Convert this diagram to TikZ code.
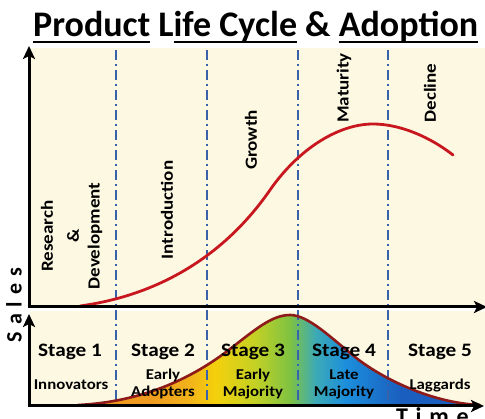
\documentclass[tikz,border=0pt]{standalone}
\usepackage{fontspec}
\setmainfont{Carlito}
\newfontfamily\lblfont[FakeStretch=1.12]{Carlito}
\newfontfamily\axfont[LetterSpace=32]{Carlito}
\usetikzlibrary{arrows.meta}
\definecolor{cream}{HTML}{FCF8E2}
\definecolor{plcred}{HTML}{C8171E}
\definecolor{bellline}{HTML}{8E1A1A}
\definecolor{dashblue}{HTML}{3A62A8}
\definecolor{gA}{HTML}{EE9A1E}
\definecolor{gB}{HTML}{F2B41A}
\definecolor{gC}{HTML}{F4D00C}
\definecolor{gD}{HTML}{C3D125}
\definecolor{gE}{HTML}{7EC242}
\definecolor{gF}{HTML}{3DAAB5}
\definecolor{gG}{HTML}{1C8FDC}
\definecolor{gH}{HTML}{1A5FBF}
\newcommand\myul[1]{\setbox0\hbox{#1}\rlap{\rule[-6pt]{\wd0}{2pt}}\box0\relax}
\tikzset{
  axisline/.style={line width=3pt,-{Stealth[length=13pt,width=12pt,inset=3pt]}},
  divider/.style={dashblue,line width=1.3pt,dash pattern=on 10pt off 4pt on 2pt off 4pt},
  phase/.style={rotate=90,inner sep=0pt,font=\lblfont\fontsize{17}{17}\selectfont\bfseries},
  stagelbl/.style={anchor=base,inner sep=0pt,font=\lblfont\fontsize{19}{19}\selectfont\bfseries},
  grouplbl/.style={anchor=base,inner sep=0pt,font=\lblfont\fontsize{15}{15}\selectfont\bfseries},
}
\def\bellpath{(78,405) .. controls (140,402) and (190,380) .. (230,349)
  .. controls (256,329) and (272,315) .. (290,315)
  .. controls (308,315) and (330,337) .. (355,357)
  .. controls (380,377) and (430,403) .. (480,405)}
\begin{document}
\begin{tikzpicture}[x=1pt,y=-1pt]
\useasboundingbox (0,0) rectangle (485,419);
\fill[white] (0,0) rectangle (485,419);
\fill[cream] (30,48) rectangle (485,306);
\fill[cream] (30,311) rectangle (485,405);

% adoption bell, filled with gradient
\begin{scope}
\clip \bellpath -- cycle;
\shade[left color=gA,right color=gA] (70,300) rectangle (150.5,410);
\shade[left color=gA,right color=gB] (150,300) rectangle (190.5,410);
\shade[left color=gB,right color=gC] (190,300) rectangle (215.5,410);
\shade[left color=gC,right color=gD] (215,300) rectangle (255.5,410);
\shade[left color=gD,right color=gE] (255,300) rectangle (290.5,410);
\shade[left color=gE,right color=gF] (290,300) rectangle (315.5,410);
\shade[left color=gF,right color=gG] (315,300) rectangle (345.5,410);
\shade[left color=gG,right color=gH] (345,300) rectangle (400.5,410);
\shade[left color=gH,right color=gH] (400,300) rectangle (485,410);
\end{scope}

% stage dividers
\foreach \x/\n in {116/a,207/b,298/c,388/d}{
  \coordinate (top\n) at (\x,50);
  \coordinate (bot\n) at (\x,406);
  \draw[divider] (top\n) -- (bot\n);
}

\draw[bellline,line width=2.6pt] \bellpath;

% product life cycle curve
\draw[plcred,line width=2.8pt,line cap=round] (80,306) .. controls (160,295) and (225,255) .. (270,190)
  .. controls (300,147) and (340,124) .. (373,124)
  .. controls (400,124) and (430,137) .. (453,155);

% axes
\coordinate (o1) at (29,307);
\coordinate (y1) at (29,46);
\coordinate (x1) at (487,307);
\coordinate (o2) at (29,406);
\coordinate (y2) at (29,314);
\coordinate (x2) at (484,406);
\draw[axisline] ([yshift=1.5pt]o1) -- (y1);
\draw[axisline] ([xshift=-1.5pt]o1) -- (x1);
\draw[axisline] ([yshift=1.5pt]o2) -- (y2);
\draw[axisline] ([xshift=-1.5pt]o2) -- (x2);

% title
\node[anchor=base west,inner sep=0pt,font=\fontsize{36}{36}\selectfont\bfseries] (title) at (33,37)
  {\myul{Product} L\myul{ife Cycle} \& \myul{Adoption}};

% axis labels
\node[rotate=90,inner sep=0pt,font=\axfont\fontsize{22}{22}\selectfont\bfseries] (sales) at (14,305) {Sales};
\node[anchor=base west,inner sep=0pt,font=\axfont\fontsize{24}{24}\selectfont\bfseries] (time) at (396,425) {Time};

% phase labels
\node[phase] (rd1) at (47,236) {Research};
\node[phase] (rd2) at (73,236) {\&};
\node[phase] (rd3) at (95,236) {Development};
\node[phase] (intro) at (167,210) {Introduction};
\node[phase] (growth) at (251,140) {Growth};
\node[phase] (mat) at (344,88) {Maturity};
\node[phase] (dec) at (430,93) {Decline};

% stage labels
\node[stagelbl] (s1) at (70,357) {Stage 1};
\node[stagelbl] (s2) at (163,357) {Stage 2};
\node[stagelbl] (s3) at (253,357) {Stage 3};
\node[stagelbl] (s4) at (344,357) {Stage 4};
\node[stagelbl] (s5) at (440,357) {Stage 5};

\node[grouplbl] (g1) at (71,390) {Innovators};
\node[grouplbl] (g2a) at (163,380) {Early};
\node[grouplbl] (g2b) at (163,397) {Adopters};
\node[grouplbl] (g3a) at (253,380) {Early};
\node[grouplbl] (g3b) at (253,397) {Majority};
\node[grouplbl] (g4a) at (344,380) {Late};
\node[grouplbl] (g4b) at (344,397) {Majority};
\node[grouplbl] (g5) at (440,390) {Laggards};
\end{tikzpicture}
\end{document}
